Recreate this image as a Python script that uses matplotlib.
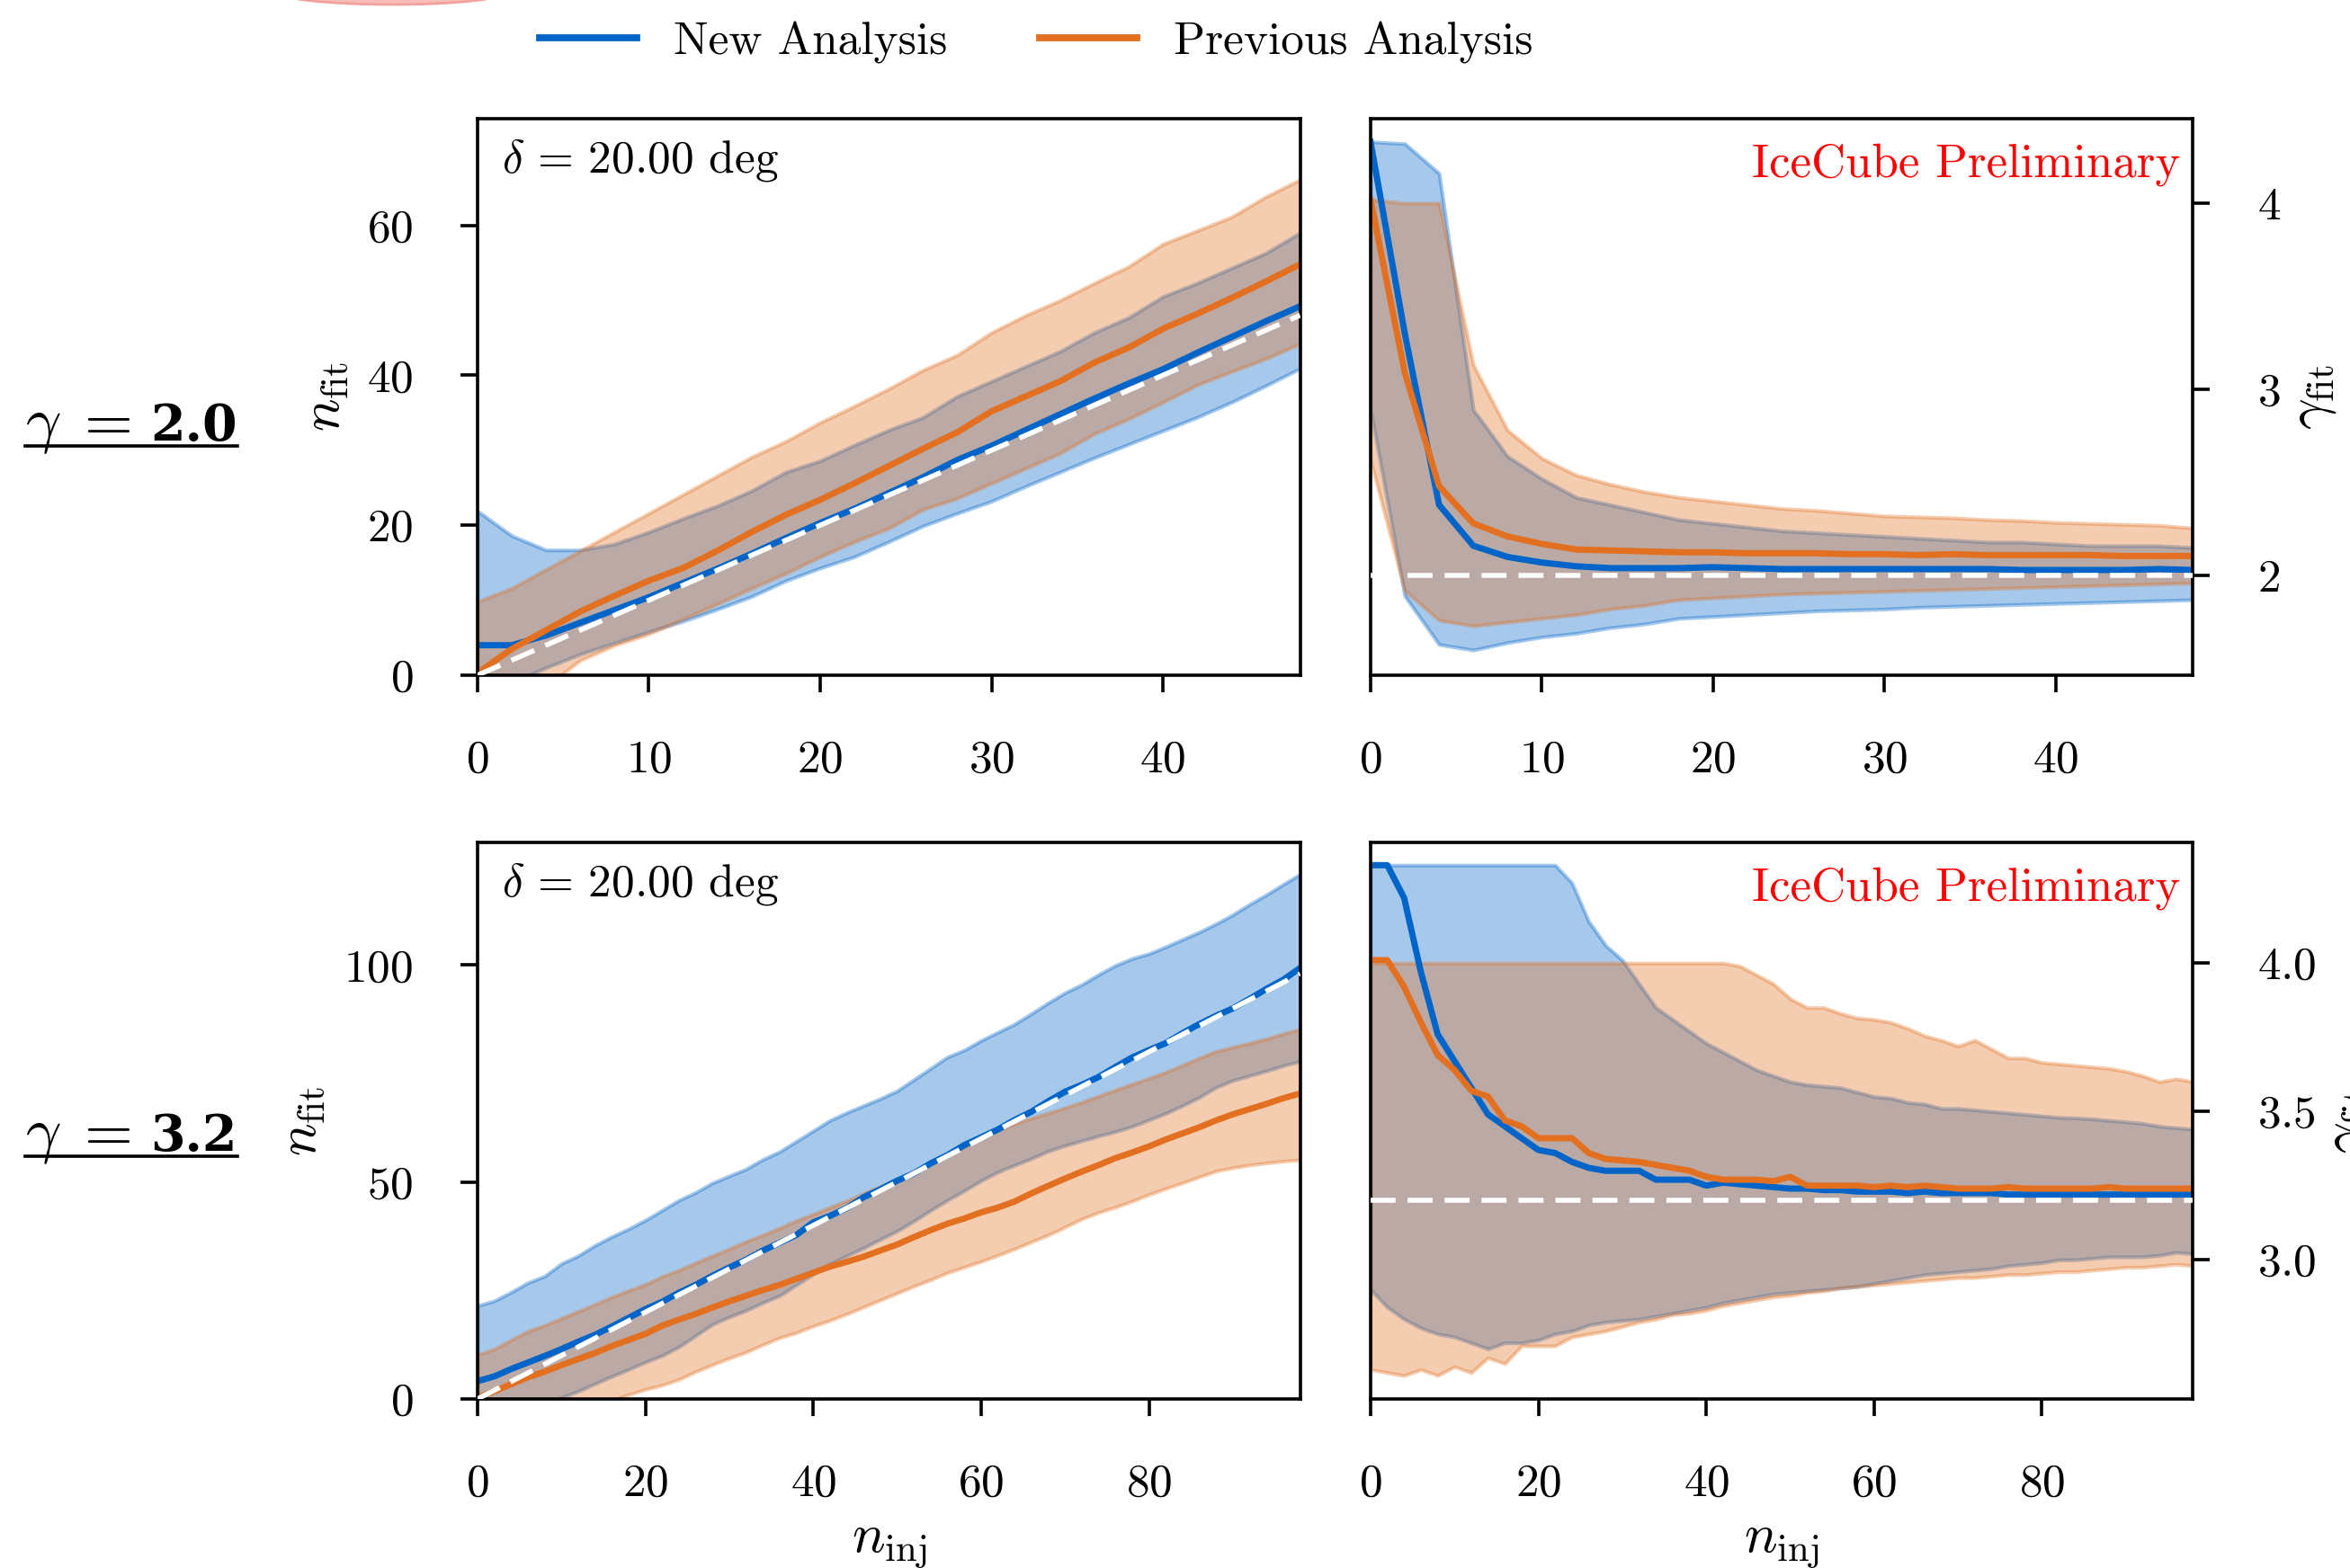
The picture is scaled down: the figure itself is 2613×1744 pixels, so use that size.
import matplotlib
matplotlib.use("Agg")
import matplotlib.pyplot as plt
from matplotlib.patches import Ellipse
from matplotlib.lines import Line2D

plt.rcParams['font.family'] = ['cmr10']
plt.rcParams['mathtext.fontset'] = 'cm'
plt.rcParams['axes.formatter.use_mathtext'] = True
plt.rcParams['axes.unicode_minus'] = False

BLUE = '#0064c8'
ORANGE = '#e27020'

# ---- gamma = 2.0 (n_inj 0..48) ----
ninj_a = list(range(0, 50, 2))
nfit_new_med_a = [4.0, 4.0, 5.3, 7.0, 8.7, 10.4, 12.3, 14.2, 16.2, 18.3, 20.3, 22.2, 24.3,
                  26.4, 28.7, 30.6, 32.7, 34.8, 36.9, 38.9, 40.8, 43.0, 45.1, 47.2, 49.2]
nfit_new_hi_a = [21.9, 18.6, 16.7, 16.7, 17.5, 19.1, 20.9, 22.6, 24.6, 27.1, 28.6, 30.7, 32.7,
                 34.4, 37.2, 39.2, 41.2, 43.2, 45.7, 47.7, 50.5, 52.3, 54.3, 56.3, 59.0]
nfit_new_lo_a = [-3.0, -1.0, 1.0, 2.8, 4.3, 5.8, 7.2, 8.8, 10.5, 12.6, 14.3, 15.8, 17.8,
                 19.9, 21.6, 23.2, 25.2, 27.1, 29.0, 30.8, 32.6, 34.4, 36.4, 38.6, 40.9]
nfit_old_med_a = [0.3, 3.5, 6.0, 8.5, 10.6, 12.6, 14.3, 16.6, 19.1, 21.4, 23.4, 25.6, 27.9,
                  30.2, 32.4, 35.2, 37.2, 39.2, 41.7, 43.7, 46.2, 48.2, 50.3, 52.5, 54.8]
nfit_old_hi_a = [9.8, 11.6, 14.1, 16.6, 19.1, 21.6, 24.1, 26.6, 29.1, 31.2, 33.7, 35.9, 38.2,
                 40.7, 42.7, 45.7, 48.0, 50.0, 52.3, 54.5, 57.5, 59.3, 61.1, 63.8, 66.1]
nfit_old_lo_a = [-8.0, -5.0, -1.5, 2.0, 4.0, 5.5, 7.5, 9.5, 11.6, 13.6, 15.8, 17.8, 19.6,
                 22.1, 23.6, 25.6, 27.6, 29.6, 32.2, 34.2, 36.4, 38.7, 40.5, 42.2, 44.2]

gfit_new_med_a = [4.33, 3.30, 2.38, 2.16, 2.10, 2.07, 2.05, 2.04, 2.04, 2.04, 2.045, 2.04, 2.035,
                  2.035, 2.035, 2.035, 2.035, 2.035, 2.035, 2.03, 2.03, 2.03, 2.03, 2.035, 2.03]
gfit_new_hi_a = [4.33, 4.32, 4.16, 2.89, 2.64, 2.52, 2.42, 2.38, 2.34, 2.30, 2.28, 2.26, 2.24,
                 2.23, 2.22, 2.21, 2.20, 2.19, 2.18, 2.18, 2.17, 2.16, 2.16, 2.16, 2.15]
gfit_new_lo_a = [2.89, 1.89, 1.63, 1.60, 1.64, 1.67, 1.69, 1.72, 1.74, 1.77, 1.78, 1.79, 1.80,
                 1.81, 1.815, 1.82, 1.83, 1.835, 1.84, 1.845, 1.85, 1.855, 1.86, 1.865, 1.87]
gfit_old_med_a = [4.02, 3.09, 2.48, 2.28, 2.21, 2.17, 2.14, 2.135, 2.13, 2.125, 2.125, 2.12, 2.12,
                  2.12, 2.115, 2.115, 2.11, 2.115, 2.11, 2.11, 2.11, 2.11, 2.105, 2.105, 2.105]
gfit_old_hi_a = [4.02, 4.00, 4.00, 3.13, 2.78, 2.63, 2.54, 2.49, 2.45, 2.42, 2.40, 2.38, 2.36,
                 2.35, 2.335, 2.32, 2.315, 2.31, 2.30, 2.295, 2.285, 2.28, 2.275, 2.27, 2.255]
gfit_old_lo_a = [2.62, 1.92, 1.76, 1.73, 1.75, 1.77, 1.79, 1.82, 1.84, 1.87, 1.88, 1.89, 1.90,
                 1.905, 1.91, 1.915, 1.92, 1.925, 1.93, 1.935, 1.94, 1.945, 1.95, 1.955, 1.96]

# ---- gamma = 3.2 (n_inj 0..98) ----
ninj_b = list(range(0, 100, 2))
nfit_new_med_b = [4.1, 5.2, 6.9, 8.4, 9.9, 11.5, 13.2, 14.8, 16.7, 18.7, 20.7, 22.4, 24.5, 26.3,
                  28.4, 30.3, 32.1, 34.2, 36.0, 37.8, 40.7, 42.2, 44.0, 46.5, 48.3, 50.3, 52.0,
                  54.3, 56.2, 58.5, 60.3, 62.1, 64.3, 66.2, 68.6, 70.8, 72.4, 74.2, 76.5, 78.7,
                  80.4, 82.0, 84.3, 86.4, 88.3, 90.0, 92.2, 94.5, 96.6, 99.3]
nfit_new_hi_b = [21.5, 22.6, 24.6, 26.8, 28.3, 31.2, 33.0, 35.4, 37.4, 39.2, 41.2, 43.5, 45.8,
                 47.6, 49.8, 51.4, 53.0, 55.2, 57.0, 59.4, 61.8, 64.2, 66.0, 67.6, 69.2, 71.0,
                 73.6, 76.2, 78.8, 80.4, 82.6, 84.5, 86.4, 88.8, 91.3, 93.6, 95.5, 97.8, 99.9,
                 101.5, 102.6, 104.2, 105.9, 107.6, 109.5, 111.6, 114.0, 116.2, 118.6, 120.9]
nfit_new_lo_b = [-6.0, -5.0, -3.8, -2.5, -1.2, 0.3, 1.8, 3.5, 5.2, 6.8, 8.5, 10.0, 12.0, 14.6,
                 17.2, 18.9, 20.4, 22.2, 23.8, 26.3, 28.8, 31.1, 33.0, 34.8, 36.8, 38.7, 41.0,
                 43.5, 45.8, 48.0, 50.3, 52.3, 53.9, 55.4, 57.1, 58.4, 59.5, 60.6, 61.6, 62.8,
                 64.3, 65.8, 67.6, 69.5, 71.8, 73.4, 74.5, 75.6, 76.8, 77.8]
nfit_old_med_b = [0.3, 1.8, 3.4, 5.0, 6.3, 7.8, 9.2, 10.6, 12.2, 13.6, 15.0, 16.9, 18.3, 19.6,
                  21.1, 22.5, 23.8, 25.1, 26.3, 27.7, 29.1, 30.5, 31.6, 32.8, 34.2, 35.6, 37.3,
                  38.9, 40.4, 41.6, 43.0, 44.1, 45.5, 47.4, 49.1, 50.8, 52.4, 53.9, 55.5, 56.8,
                  58.2, 59.8, 61.2, 62.6, 64.2, 65.6, 66.8, 68.0, 69.3, 70.4]
nfit_old_hi_b = [10.2, 11.5, 13.6, 15.6, 17.0, 18.6, 20.2, 21.8, 23.5, 25.0, 26.4, 28.2, 29.7,
                 31.4, 33.0, 34.6, 36.3, 37.8, 39.4, 41.1, 42.6, 44.2, 45.7, 47.4, 49.0, 50.6,
                 52.5, 54.4, 56.3, 58.1, 60.0, 61.9, 63.4, 64.7, 65.9, 67.1, 68.4, 69.8, 71.2,
                 72.6, 73.9, 75.3, 76.9, 78.6, 80.1, 81.1, 82.0, 83.0, 84.2, 85.2]
nfit_old_lo_b = [-12.0, -11.0, -10.0, -8.5, -7.0, -5.5, -3.8, -2.0, -0.3, 1.0, 2.2, 3.2, 4.5,
                 6.3, 7.9, 9.4, 10.8, 12.5, 14.1, 15.3, 16.8, 18.1, 19.6, 21.2, 22.8, 24.4, 26.0,
                 27.5, 29.1, 30.4, 31.7, 33.1, 34.6, 36.2, 37.8, 39.6, 41.5, 43.0, 44.2, 45.6,
                 47.1, 48.5, 49.8, 51.2, 52.5, 53.3, 53.9, 54.4, 54.8, 55.1]

gfit_new_med_b = [4.33, 4.33, 4.22, 3.97, 3.76, 3.67, 3.58, 3.49, 3.45, 3.41, 3.37, 3.36, 3.33,
                  3.31, 3.30, 3.30, 3.30, 3.27, 3.27, 3.27, 3.25, 3.26, 3.255, 3.25, 3.245, 3.24,
                  3.24, 3.235, 3.235, 3.23, 3.23, 3.23, 3.225, 3.23, 3.225, 3.225, 3.225, 3.225,
                  3.22, 3.22, 3.22, 3.22, 3.22, 3.22, 3.22, 3.22, 3.22, 3.22, 3.22, 3.22]
gfit_new_hi_b = [4.33, 4.33, 4.33, 4.33, 4.33, 4.33, 4.33, 4.33, 4.33, 4.33, 4.33, 4.33, 4.27,
                 4.14, 4.06, 4.01, 3.93, 3.85, 3.81, 3.77, 3.73, 3.70, 3.67, 3.64, 3.62, 3.60,
                 3.59, 3.585, 3.58, 3.565, 3.55, 3.545, 3.53, 3.525, 3.51, 3.51, 3.505, 3.50,
                 3.495, 3.49, 3.485, 3.48, 3.478, 3.475, 3.47, 3.465, 3.46, 3.45, 3.445, 3.44]
gfit_new_lo_b = [2.90, 2.84, 2.80, 2.77, 2.75, 2.74, 2.72, 2.70, 2.72, 2.72, 2.73, 2.75, 2.76,
                 2.78, 2.79, 2.795, 2.80, 2.81, 2.82, 2.83, 2.84, 2.855, 2.865, 2.875, 2.885,
                 2.89, 2.895, 2.90, 2.905, 2.91, 2.92, 2.93, 2.94, 2.95, 2.955, 2.96, 2.965,
                 2.97, 2.98, 2.985, 2.99, 3.00, 3.00, 3.005, 3.01, 3.01, 3.01, 3.015, 3.025, 3.02]
gfit_old_med_b = [4.01, 4.01, 3.92, 3.80, 3.69, 3.64, 3.57, 3.55, 3.47, 3.45, 3.41, 3.41, 3.41,
                  3.36, 3.34, 3.335, 3.33, 3.32, 3.31, 3.30, 3.28, 3.27, 3.27, 3.27, 3.265, 3.28,
                  3.25, 3.25, 3.25, 3.25, 3.245, 3.25, 3.245, 3.25, 3.245, 3.24, 3.24, 3.24,
                  3.245, 3.24, 3.24, 3.24, 3.24, 3.24, 3.245, 3.24, 3.24, 3.24, 3.24, 3.24]
gfit_old_hi_b = [4.00, 4.00, 4.00, 4.00, 4.00, 4.00, 4.00, 4.00, 4.00, 4.00, 4.00, 4.00, 4.00,
                 4.00, 4.00, 4.00, 4.00, 4.00, 4.00, 4.00, 4.00, 4.00, 3.99, 3.96, 3.93, 3.88,
                 3.85, 3.85, 3.83, 3.815, 3.81, 3.80, 3.78, 3.755, 3.74, 3.72, 3.74, 3.71, 3.68,
                 3.68, 3.665, 3.66, 3.655, 3.65, 3.645, 3.635, 3.62, 3.60, 3.61, 3.60]
gfit_old_lo_b = [2.63, 2.62, 2.61, 2.63, 2.61, 2.64, 2.62, 2.67, 2.65, 2.71, 2.71, 2.71, 2.74,
                 2.75, 2.76, 2.775, 2.79, 2.80, 2.815, 2.82, 2.83, 2.845, 2.855, 2.865, 2.875,
                 2.88, 2.89, 2.895, 2.905, 2.91, 2.915, 2.92, 2.925, 2.93, 2.935, 2.94, 2.94,
                 2.945, 2.95, 2.95, 2.955, 2.96, 2.96, 2.965, 2.97, 2.975, 2.975, 2.98, 2.985, 2.98]

true_gamma = [2.0, 3.2]


def draw_panel(ax, x, new, old):
    # new analysis first, previous analysis drawn over it
    for (med, lo, hi), col in ((new, BLUE), (old, ORANGE)):
        ax.fill_between(x, lo, hi, color=col, alpha=0.35, lw=1.5, zorder=1)
        ax.plot(x, med, color=col, lw=2.5, zorder=2)


def style_axis(ax, right=False):
    for s in ax.spines.values():
        s.set_linewidth(1.3)
    ax.tick_params(direction='out', length=6.8, width=1.3, pad=19, labelsize=18.5)
    if right:
        ax.yaxis.tick_right()
        ax.yaxis.set_label_position('right')


fig = plt.figure(figsize=(13.065, 8.72), dpi=200)
xl, xr, w = 0.2032, 0.5832, 0.3500
yt, yb, h = 0.5694, 0.1078, 0.3548

ax_na = fig.add_axes([xl, yt, w, h])
ax_ga = fig.add_axes([xr, yt, w, h])
ax_nb = fig.add_axes([xl, yb, w, h])
ax_gb = fig.add_axes([xr, yb, w, h])

draw_panel(ax_na, ninj_a, (nfit_new_med_a, nfit_new_lo_a, nfit_new_hi_a),
           (nfit_old_med_a, nfit_old_lo_a, nfit_old_hi_a))
draw_panel(ax_ga, ninj_a, (gfit_new_med_a, gfit_new_lo_a, gfit_new_hi_a),
           (gfit_old_med_a, gfit_old_lo_a, gfit_old_hi_a))
draw_panel(ax_nb, ninj_b, (nfit_new_med_b, nfit_new_lo_b, nfit_new_hi_b),
           (nfit_old_med_b, nfit_old_lo_b, nfit_old_hi_b))
draw_panel(ax_gb, ninj_b, (gfit_new_med_b, gfit_new_lo_b, gfit_new_hi_b),
           (gfit_old_med_b, gfit_old_lo_b, gfit_old_hi_b))

dash = (0, (5, 2.4))
ax_na.plot([0, 48], [0, 48], color='white', lw=2, ls=dash, zorder=3)
ax_nb.plot([0, 98], [0, 98], color='white', lw=2, ls=dash, zorder=3)
ax_ga.axhline(true_gamma[0], color='white', lw=2, ls=dash, zorder=3)
ax_gb.axhline(true_gamma[1], color='white', lw=2, ls=dash, zorder=3)

ax_na.set_xlim(0, 48)
ax_ga.set_xlim(0, 48)
ax_nb.set_xlim(0, 98)
ax_gb.set_xlim(0, 98)
ax_na.set_ylim(0, 74.2)
ax_nb.set_ylim(0, 128.2)
ax_ga.set_ylim(1.465, 4.453)
ax_gb.set_ylim(2.531, 4.406)

ax_na.set_xticks([0, 10, 20, 30, 40])
ax_ga.set_xticks([0, 10, 20, 30, 40])
ax_nb.set_xticks([0, 20, 40, 60, 80])
ax_gb.set_xticks([0, 20, 40, 60, 80])
ax_na.set_yticks([0, 20, 40, 60])
ax_nb.set_yticks([0, 50, 100])
ax_ga.set_yticks([2, 3, 4])
ax_gb.set_yticks([3.0, 3.5, 4.0])

for ax in (ax_na, ax_nb):
    style_axis(ax)
    ax.set_ylabel(r'$n_\mathrm{fit}$', fontsize=22, labelpad=7)
    ax.text(0.03, 0.926, r'$\delta\,=\,20.00$ deg', transform=ax.transAxes,
            fontsize=18.5, va='center', ha='left')
for ax in (ax_ga, ax_gb):
    style_axis(ax, right=True)
    ax.set_ylabel(r'$\gamma_\mathrm{fit}$', fontsize=22, labelpad=3)
    ax.text(0.985, 0.918, 'IceCube Preliminary', transform=ax.transAxes,
            fontsize=19, color='red', va='center', ha='right')
for ax in (ax_nb, ax_gb):
    ax.set_xlabel(r'$n_\mathrm{inj}$', fontsize=22, labelpad=6)

handles = [Line2D([], [], color=BLUE, lw=2.8), Line2D([], [], color=ORANGE, lw=2.8)]
fig.legend(handles, ['New Analysis', 'Previous Analysis'], loc='center',
           bbox_to_anchor=(0.441, 0.973), ncol=2, frameon=False, fontsize=18.5,
           handlelength=2.1, handletextpad=0.8, columnspacing=2.0)

# pink blob peeking in at the top edge
fig.add_artist(Ellipse((0.1669, 1.0057), 0.0995, 0.0172, transform=fig.transFigure,
                       facecolor='#f9bdb9', edgecolor='#f2a29d', lw=1.0, clip_on=False))

# row labels: "gamma =" followed by the bold value, underlined as one
rend = fig.canvas.get_renderer()
inv = fig.transFigure.inverted()
for g, base in zip(true_gamma, (0.719, 0.266)):
    t1 = fig.text(0.0107, base, r'$\gamma\;=$', fontsize=25, ha='left', va='baseline')
    bb1 = t1.get_window_extent(rend).transformed(inv)
    t2 = fig.text(bb1.x1 + 0.0085, base, '%.1f' % g, fontsize=20, fontweight='bold',
                  family='DejaVu Serif', ha='left', va='baseline')
    bb2 = t2.get_window_extent(rend).transformed(inv)
    y = base - 6 / 1744
    fig.add_artist(Line2D([bb1.x0, bb2.x1], [y, y], transform=fig.transFigure,
                          color='black', lw=1.3))

fig.savefig('out.png', dpi=200)
